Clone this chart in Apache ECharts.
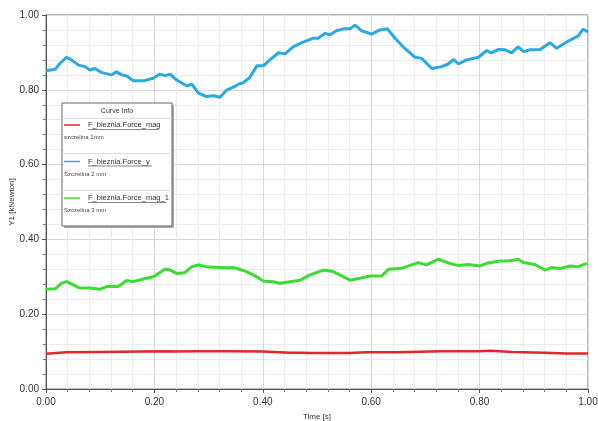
<!DOCTYPE html>
<html><head><meta charset="utf-8">
<script src="https://cdn.jsdelivr.net/npm/echarts@6/dist/echarts.min.js"></script>
<style>html,body{margin:0;padding:0;background:#fff}#c{width:598px;height:421px}</style>
</head><body><div id="c"></div>
<script>
var seriesNames = ["F_bieznia.Force_mag", "F_bieznia.Force_y", "F_bieznia.Force_mag_1"];
var seriesNotes = ["szczelina 1mm", "Szczelina 2 mm", "Szczelina 3 mm"];
var xTicks = ["0.00","0.20","0.40","0.60","0.80","1.00"];

var timeRed = [0.0,0.038,0.10,0.22,0.24,0.28,0.33,0.40,0.45,0.47,0.49,0.56,0.59,0.65,0.73,0.80,0.82,0.86,0.92,0.96,1.0];
var valRed  = [0.094,0.098,0.099,0.101,0.100,0.101,0.101,0.100,0.097,0.097,0.096,0.096,0.098,0.098,0.101,0.101,0.102,0.099,0.097,0.095,0.095];

var timeBlue = [0.0,0.017,0.026,0.038,0.047,0.060,0.072,0.081,0.090,0.103,0.121,0.130,0.140,0.149,0.161,0.180,0.198,0.210,0.220,0.229,0.241,0.260,0.269,0.281,0.296,0.309,0.321,0.333,0.346,0.355,0.364,0.376,0.389,0.401,0.413,0.429,0.441,0.456,0.469,0.493,0.502,0.515,0.524,0.536,0.549,0.561,0.570,0.582,0.601,0.616,0.630,0.644,0.659,0.681,0.693,0.712,0.730,0.742,0.752,0.761,0.776,0.798,0.813,0.822,0.835,0.847,0.859,0.871,0.881,0.893,0.911,0.930,0.942,0.961,0.982,0.991,1.0];
var valBlue  = [0.851,0.855,0.871,0.887,0.880,0.866,0.862,0.853,0.857,0.846,0.840,0.848,0.840,0.837,0.824,0.824,0.831,0.842,0.838,0.842,0.826,0.810,0.815,0.792,0.782,0.784,0.780,0.799,0.807,0.815,0.819,0.833,0.864,0.864,0.880,0.899,0.896,0.915,0.924,0.938,0.938,0.951,0.947,0.958,0.963,0.963,0.973,0.958,0.949,0.960,0.963,0.938,0.915,0.887,0.884,0.857,0.862,0.869,0.881,0.869,0.880,0.887,0.905,0.899,0.908,0.907,0.899,0.915,0.902,0.907,0.907,0.926,0.911,0.928,0.944,0.962,0.955];

var timeGreen = [0.0,0.017,0.029,0.038,0.047,0.060,0.081,0.100,0.112,0.133,0.149,0.161,0.180,0.198,0.220,0.229,0.241,0.256,0.269,0.281,0.296,0.321,0.333,0.346,0.370,0.389,0.401,0.419,0.432,0.450,0.469,0.487,0.512,0.530,0.561,0.579,0.598,0.619,0.632,0.653,0.665,0.687,0.702,0.724,0.745,0.761,0.779,0.801,0.813,0.838,0.856,0.871,0.881,0.902,0.921,0.933,0.948,0.967,0.982,0.998];
var valGreen  = [0.267,0.268,0.283,0.287,0.281,0.271,0.270,0.267,0.274,0.274,0.290,0.287,0.294,0.300,0.321,0.318,0.309,0.311,0.327,0.332,0.327,0.325,0.324,0.325,0.314,0.300,0.289,0.287,0.283,0.287,0.291,0.305,0.318,0.314,0.291,0.296,0.302,0.302,0.320,0.322,0.327,0.338,0.332,0.347,0.336,0.330,0.333,0.329,0.336,0.342,0.343,0.347,0.338,0.333,0.318,0.325,0.322,0.329,0.327,0.336];

var colors = ["#e3262b", "#2aa9e3", "#3ddc35"];

function pairs(t, v){ return t.map(function(x,i){ return [x, v[i]]; }); }

var chart = echarts.init(document.getElementById('c'), null, {renderer:'canvas'});

var FONT = 'Liberation Sans, Arial, sans-serif';
var axisLbl = {color:'#333', fontSize:10, fontFamily:FONT};

// legend box graphic
var L = {x:62, y:103, w:110, h:123};
var legendChildren = [
  {type:'rect', z:100, shape:{x:L.x+2, y:L.y+2, width:L.w, height:L.h}, style:{fill:'#aaa'}},
  {type:'rect', z:101, shape:{x:L.x, y:L.y, width:L.w, height:L.h}, style:{fill:'#fff', stroke:'#666', lineWidth:1}},
  {type:'text', z:102, x:L.x+L.w/2, y:L.y+8, style:{text:'Curve Info', fill:'#333', font:'7px ' + FONT, align:'center', verticalAlign:'middle'}},
  {type:'line', z:102, shape:{x1:L.x, y1:L.y+15.5, x2:L.x+L.w, y2:L.y+15.5}, style:{stroke:'#ddd', lineWidth:1}},
  {type:'line', z:102, shape:{x1:L.x, y1:L.y+50.5, x2:L.x+L.w, y2:L.y+50.5}, style:{stroke:'#ddd', lineWidth:1}},
  {type:'line', z:102, shape:{x1:L.x, y1:L.y+87.5, x2:L.x+L.w, y2:L.y+87.5}, style:{stroke:'#ddd', lineWidth:1}}
];
var rowY = [125, 161.5, 198];
seriesNames.forEach(function(n, i){
  var y = rowY[i];
  legendChildren.push({type:'line', z:102, shape:{x1:64, y1:y, x2:80, y2:y}, style:{stroke:colors[i], lineWidth:1.5}});
  legendChildren.push({type:'text', z:102, x:88, y:y, style:{text:n, fill:'#333', font:'7.5px ' + FONT, verticalAlign:'middle'}});
  legendChildren.push({type:'line', z:102, shape:{x1:88, y1:y+4.5, x2:88 + n.length*3.75, y2:y+4.5}, style:{stroke:'#555', lineWidth:0.7}});
  legendChildren.push({type:'text', z:102, x:64, y:y+12.5, style:{text:seriesNotes[i], fill:'#444', font:'6px ' + FONT, verticalAlign:'middle'}});
});

var option = {
  animation:false,
  backgroundColor:'#fff',
  grid:{left:46, right:10, top:15, bottom:32, outerBoundsMode:'none', containLabel:false, show:true, borderColor:'#777', borderWidth:1, backgroundColor:'transparent'},
  xAxis:{
    type:'value', min:0, max:1, interval:0.2,
    name:'Time [s]', nameLocation:'middle', nameGap:24, nameMoveOverlap:false,
    nameTextStyle:{color:'#333', fontSize:8, fontFamily:FONT},
    axisLine:{show:true, lineStyle:{color:'#555'}},
    axisTick:{show:true, length:4, lineStyle:{color:'#555'}},
    minorTick:{show:true, splitNumber:5, length:3, lineStyle:{color:'#777'}},
    axisLabel:Object.assign({formatter:function(v){ return xTicks[Math.round(v/0.2)]; }, margin:8}, axisLbl),
    splitLine:{show:true, lineStyle:{color:'#d6d6d6'}},
    minorSplitLine:{show:true, lineStyle:{color:'#ececec'}}
  },
  yAxis:{
    type:'value', min:0, max:1, interval:0.2,
    name:'Y1 [kNewton]', nameLocation:'middle', nameGap:30, nameRotate:90, nameMoveOverlap:false,
    nameTextStyle:{color:'#333', fontSize:8, fontFamily:FONT},
    axisLine:{show:true, lineStyle:{color:'#555'}},
    axisTick:{show:true, length:4, lineStyle:{color:'#555'}},
    minorTick:{show:true, splitNumber:5, length:3, lineStyle:{color:'#777'}},
    axisLabel:Object.assign({formatter:function(v){ return v.toFixed(2); }, margin:7}, axisLbl),
    splitLine:{show:true, lineStyle:{color:'#d6d6d6'}},
    minorSplitLine:{show:true, lineStyle:{color:'#ececec'}}
  },
  series:[
    {name:seriesNames[0], type:'line', data:pairs(timeRed, valRed), showSymbol:false, smooth:false, lineStyle:{color:colors[0], width:2.5}, itemStyle:{color:colors[0]}},
    {name:seriesNames[1], type:'line', data:pairs(timeBlue, valBlue), showSymbol:false, smooth:false, lineStyle:{color:colors[1], width:3}, itemStyle:{color:colors[1]}},
    {name:seriesNames[2], type:'line', data:pairs(timeGreen, valGreen), showSymbol:false, smooth:false, lineStyle:{color:colors[2], width:3}, itemStyle:{color:colors[2]}}
  ],
  graphic:legendChildren
};
chart.setOption(option);
</script>
</body></html>
